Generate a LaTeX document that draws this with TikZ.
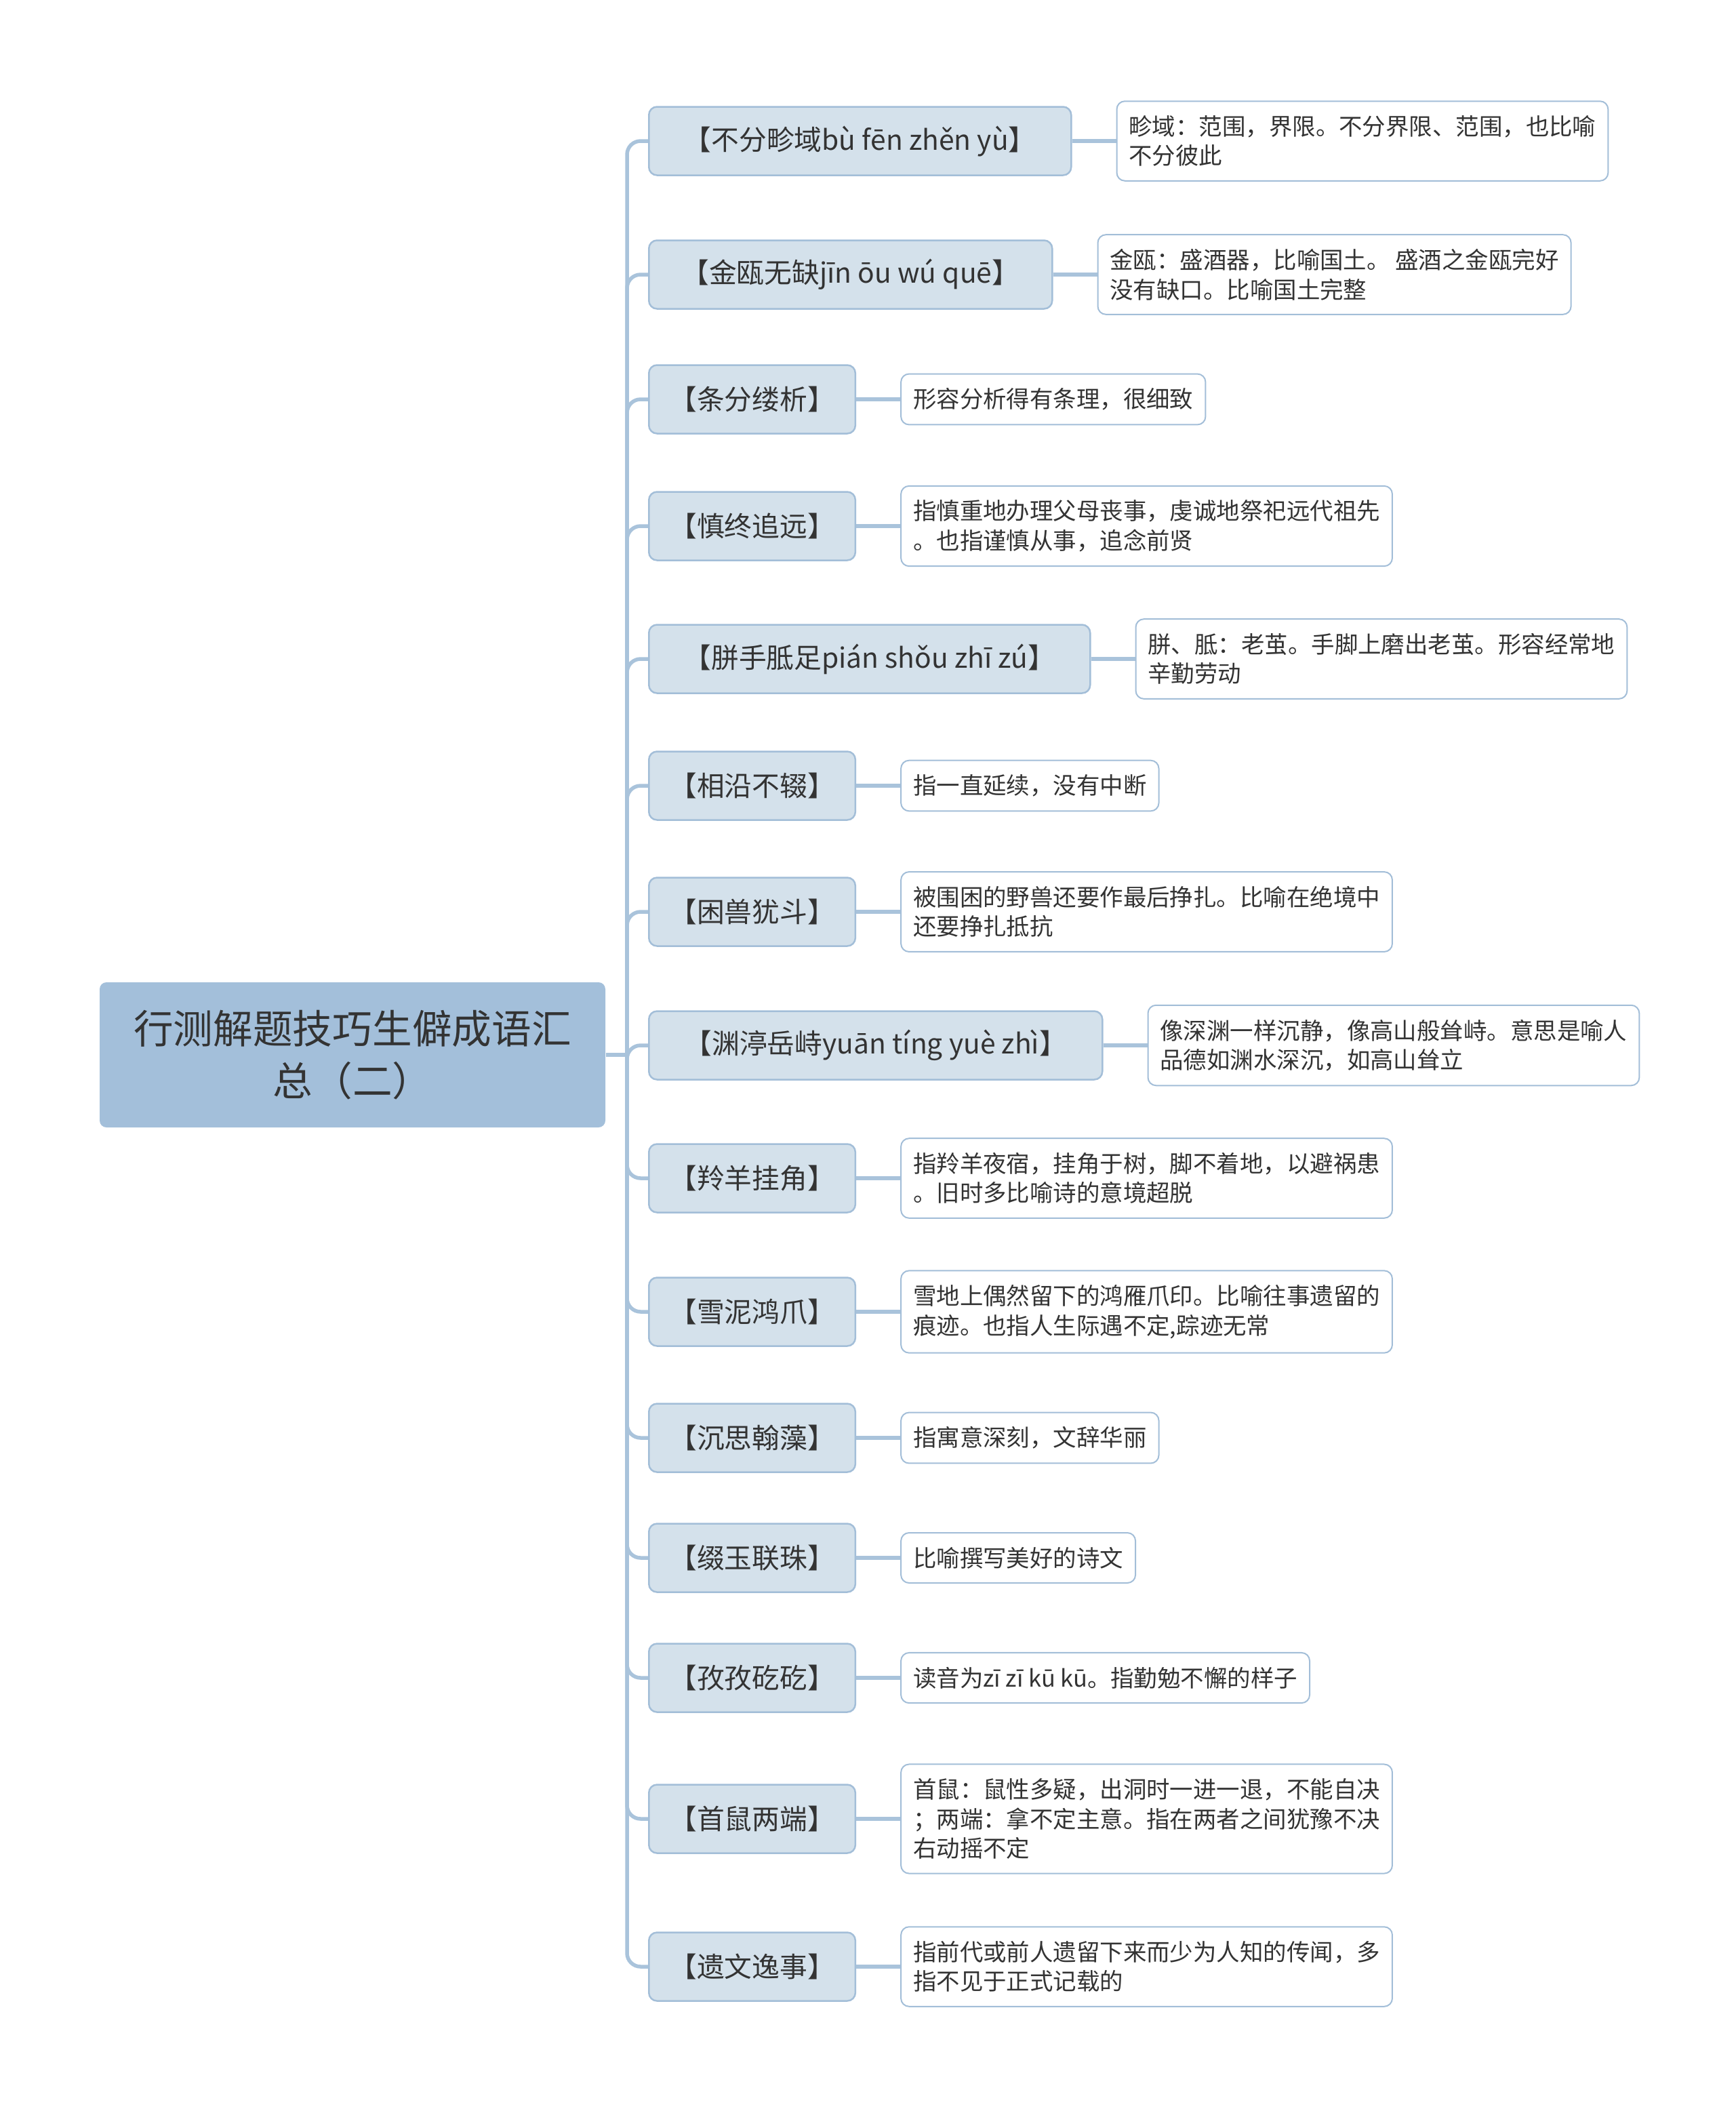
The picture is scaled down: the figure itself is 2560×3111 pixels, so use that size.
\documentclass[tikz,border=0pt]{standalone}
\usepackage{fontspec}
\setmainfont{Noto Sans CJK SC}
\usepackage{tikz}
\usepackage{xcolor}
\usetikzlibrary{positioning}

\definecolor{rootblue}{HTML}{A3BFDA}
\definecolor{topicblue}{HTML}{D4E1EB}
\definecolor{edgeblue}{HTML}{A3BED8}
\definecolor{linkblue}{HTML}{A9C3DB}
\definecolor{inkgray}{HTML}{333333}

\begin{document}
\begin{tikzpicture}[
    x=0.1mm, y=-0.1mm,
    node distance=6.5mm,
    root/.style={rectangle, rounded corners=1mm, fill=rootblue, text=inkgray, minimum width=74.6mm, minimum height=21.4mm, align=center, font=\fontsize{16.7pt}{22pt}\selectfont},
    topic/.style={rectangle, rounded corners=1.2mm, draw=edgeblue, line width=0.25mm, fill=topicblue, text=inkgray, minimum height=10.1mm, inner xsep=3mm, anchor=west, font=\fontsize{11.6pt}{14pt}\selectfont},
    desc/.style={rectangle, rounded corners=1.2mm, draw=edgeblue, line width=0.2mm, fill=white, text=inkgray, inner xsep=1.8mm, inner ysep=2.1mm, align=left, font=\fontsize{9.8pt}{12.4pt}\selectfont},
    link/.style={draw=linkblue, line width=0.55mm, rounded corners=2mm}
]
    \useasboundingbox (0,0) rectangle (2560,3111);

    \node[root] (root) at (520,1556) {行测解题技巧生僻成语汇\\总（二）};
    \coordinate (hub) at (925,1556);

    \node[topic, minimum width=62.3mm] (t1) at (956,208) {【不分畛域bù fēn zhěn yù】};
    \node[desc, right=of t1] (d1) {畛域：范围，界限。不分界限、范围，也比喻\\不分彼此};

    \node[topic, minimum width=59.5mm] (t2) at (956,405) {【金瓯无缺jīn ōu wú quē】};
    \node[desc, right=of t2] (d2) {金瓯：盛酒器，比喻国土。 盛酒之金瓯完好\\没有缺口。比喻国土完整};

    \node[topic] (t3) at (956,589) {【条分缕析】};
    \node[desc, right=of t3] (d3) {形容分析得有条理，很细致};

    \node[topic] (t4) at (956,776) {【慎终追远】};
    \node[desc, right=of t4] (d4) {指慎重地办理父母丧事，虔诚地祭祀远代祖先\\。也指谨慎从事，追念前贤};

    \node[topic, minimum width=65.1mm] (t5) at (956,972) {【胼手胝足pián shǒu zhī zú】};
    \node[desc, right=of t5] (d5) {胼、胝：老茧。手脚上磨出老茧。形容经常地\\辛勤劳动};

    \node[topic] (t6) at (956,1159) {【相沿不辍】};
    \node[desc, right=of t6] (d6) {指一直延续，没有中断};

    \node[topic] (t7) at (956,1345) {【困兽犹斗】};
    \node[desc, right=of t7] (d7) {被围困的野兽还要作最后挣扎。比喻在绝境中\\还要挣扎抵抗};

    \node[topic, minimum width=66.9mm] (t8) at (956,1542) {【渊渟岳峙yuān tíng yuè zhì】};
    \node[desc, right=of t8] (d8) {像深渊一样沉静，像高山般耸峙。意思是喻人\\品德如渊水深沉，如高山耸立};

    \node[topic] (t9) at (956,1738) {【羚羊挂角】};
    \node[desc, right=of t9] (d9) {指羚羊夜宿，挂角于树，脚不着地，以避祸患\\。旧时多比喻诗的意境超脱};

    \node[topic] (t10) at (956,1935) {【雪泥鸿爪】};
    \node[desc, right=of t10] (d10) {雪地上偶然留下的鸿雁爪印。比喻往事遗留的\\痕迹。也指人生际遇不定,踪迹无常};

    \node[topic] (t11) at (956,2121) {【沉思翰藻】};
    \node[desc, right=of t11] (d11) {指寓意深刻，文辞华丽};

    \node[topic] (t12) at (956,2298) {【缀玉联珠】};
    \node[desc, right=of t12] (d12) {比喻撰写美好的诗文};

    \node[topic] (t13) at (956,2475) {【孜孜矻矻】};
    \node[desc, right=of t13] (d13) {读音为zī zī kū kū。指勤勉不懈的样子};

    \node[topic] (t14) at (956,2683) {【首鼠两端】};
    \node[desc, right=of t14] (d14) {首鼠：鼠性多疑，出洞时一进一退，不能自决\\；两端：拿不定主意。指在两者之间犹豫不决\\右动摇不定};

    \node[topic] (t15) at (956,2901) {【遗文逸事】};
    \node[desc, right=of t15] (d15) {指前代或前人遗留下来而少为人知的传闻，多\\指不见于正式记载的};

    \draw[link] (root.east) -- (hub);
    \foreach \i in {1,...,15} {
        \draw[link] (hub) |- (t\i.west);
        \draw[link] (t\i.east) -- (d\i.west);
    }
\end{tikzpicture}
\end{document}
